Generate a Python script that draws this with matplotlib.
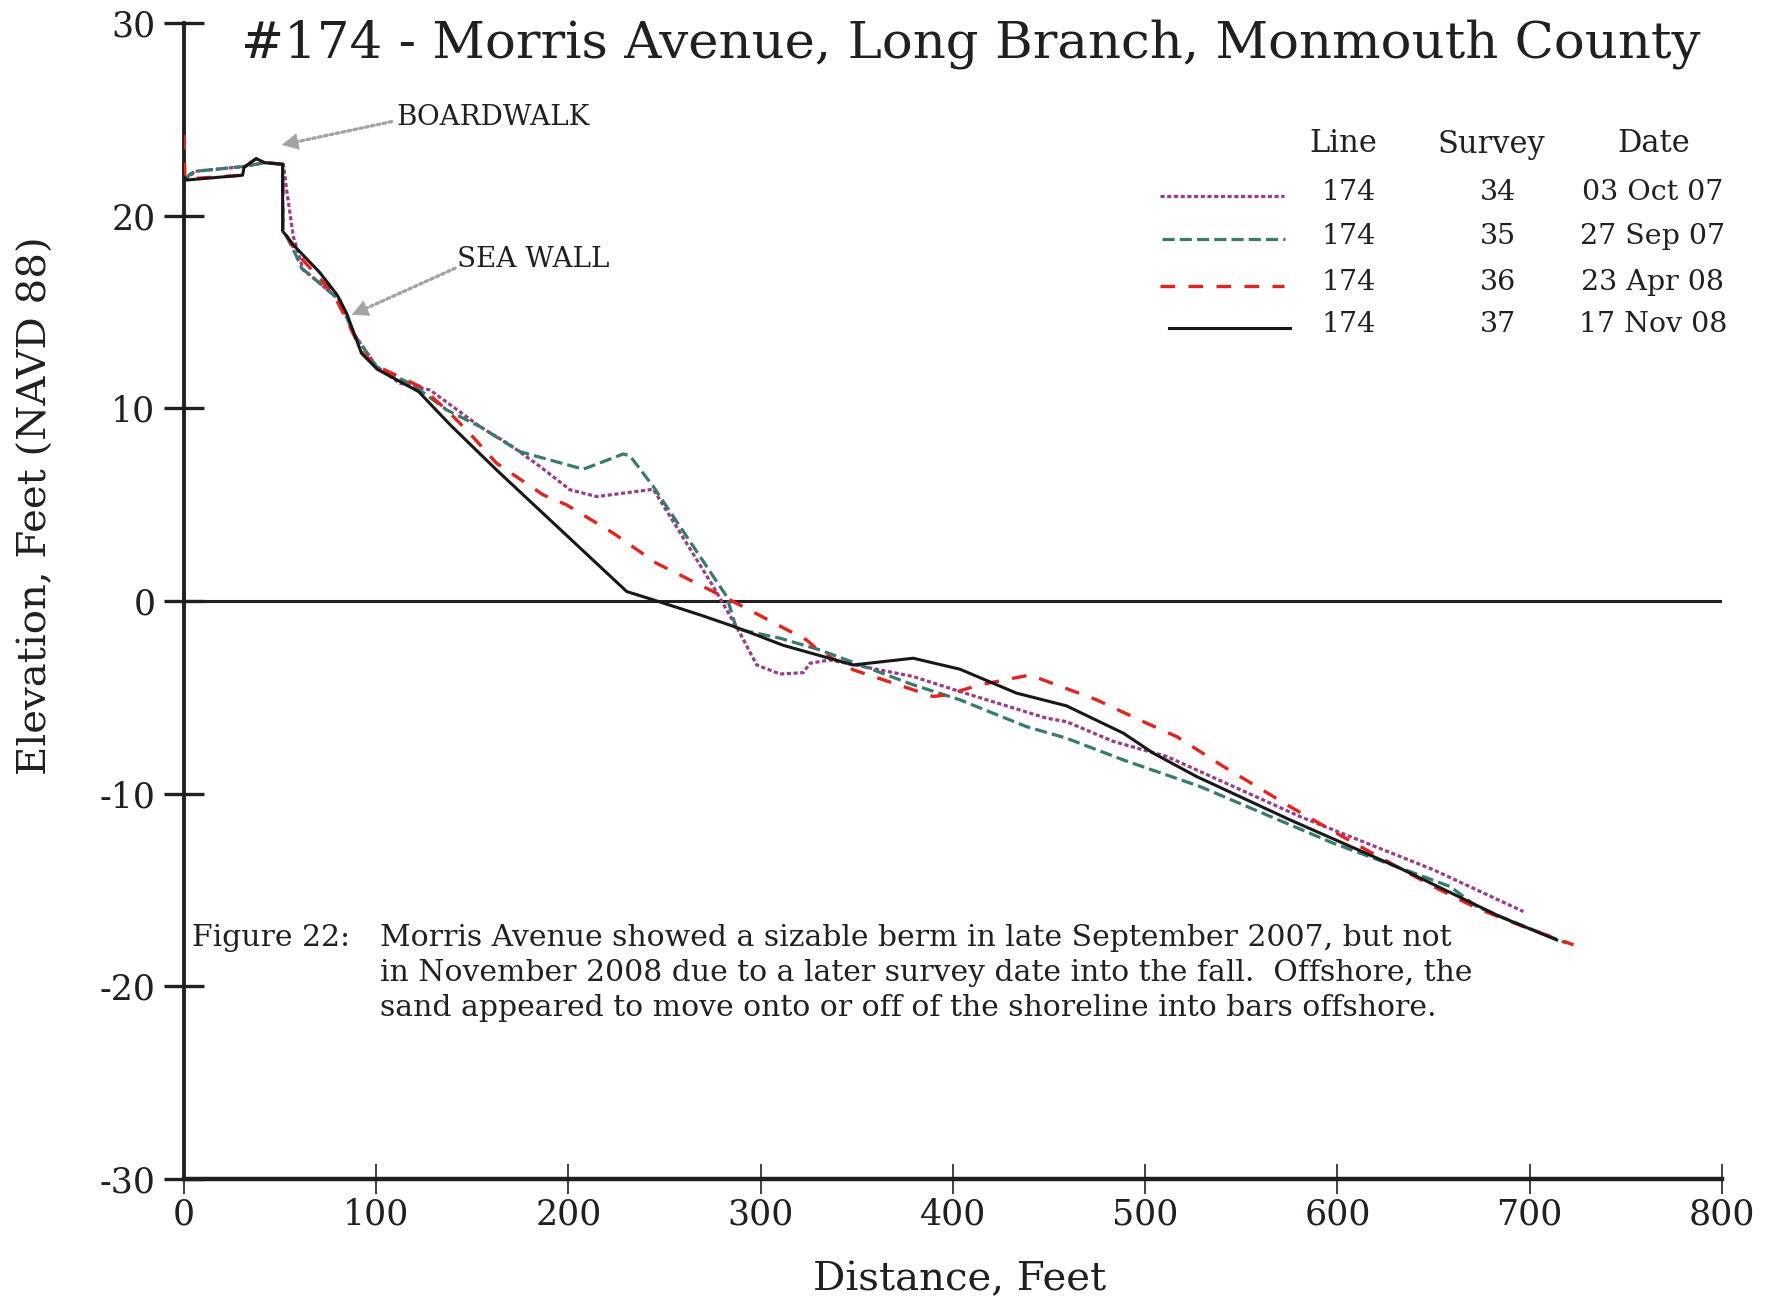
import numpy as np
import matplotlib
matplotlib.use("Agg")
import matplotlib.pyplot as plt
from matplotlib.lines import Line2D

# profile data (distance ft, elevation ft NAVD88)
dist_34 = [0.8, 5.7, 30.9, 42.1, 51.7, 53.4, 56.9, 62, 65.5, 81.1, 88.1, 100.2, 112.4, 128, 154,
           169.6, 185.2, 200.8, 214.7, 244.1, 258.2, 275.3, 289.2, 297.9, 310, 322.1, 325.6, 336,
           379.3, 403.6, 448.6, 459, 483.4, 511.2, 580.5, 649.9, 696.7]
elev_34 = [21.85, 22.3, 22.55, 22.75, 22.67, 21.33, 18.9, 17.18, 16.92, 15.6, 13.9, 12.16, 11.3, 10.95, 9.05,
           8.1, 6.98, 5.77, 5.42, 5.8, 3.52, 0.75, -1.67, -3.32, -3.79, -3.72, -3.23, -3.06,
           -3.92, -4.7, -6.08, -6.26, -7.29, -8.07, -11.19, -13.95, -16.12]

dist_35 = [0.8, 3, 5.7, 30.9, 42.1, 51.3, 51.5, 55, 58.6, 61.2, 65.5, 81.1, 88.1, 100.2, 119.3, 136.6,
           154, 174.8, 207.7, 228.5, 232, 244.1, 265, 282.3, 287.4, 310, 330.8, 379.3, 403.6, 438.2,
           459, 488.6, 528.5, 597.8, 658.6, 672.4, 693.1, 719.2]
elev_35 = [21.85, 22.15, 22.3, 22.55, 22.75, 22.67, 19.3, 18.6, 17.87, 17.27, 16.92, 15.6, 13.9, 12.16, 11.2, 9.92,
           9.05, 7.75, 6.84, 7.63, 7.53, 5.94, 2.82, 0.23, -1.45, -1.93, -2.54, -4.35, -5.13, -6.52,
           -7.12, -8.25, -9.63, -12.57, -14.82, -15.86, -16.72, -17.76]

dist_36 = [0, 0.5, 30.5, 31.2, 37.5, 42.1, 51.3, 51.5, 58.6, 77.7, 93, 101, 122.8, 136.6, 147, 162.6,
           187, 199, 223.3, 245.8, 266.6, 285.7, 323.8, 330.8, 348.1, 389.8, 396.7, 414, 440, 474.7,
           500.7, 516.4, 540.7, 575.3, 611.7, 649.9, 672.4, 696.7, 722.8]
elev_36 = [24.2, 21.9, 22.1, 22.5, 22.96, 22.75, 22.67, 19.3, 18.05, 15.97, 12.86, 12.16, 11.13, 9.92, 8.88, 7.15,
           5.5, 4.99, 3.52, 1.96, 0.92, -0.03, -2.02, -2.62, -3.57, -4.96, -4.87, -4.35, -3.84, -5.13,
           -6.34, -7.04, -8.59, -10.67, -12.74, -14.82, -15.94, -16.9, -17.85]

dist_37 = [0, 1.4, 30.5, 31.2, 37.5, 42.1, 51.3, 51.3, 56.9, 70.7, 79.7, 84.6, 92.3, 100.5, 122, 138.5,
           162.6, 230.3, 244.1, 268.4, 287.4, 311.7, 348.1, 379.3, 403.6, 433, 459, 488.6, 504.2,
           526.7, 575.3, 632.5, 684.5, 714]
elev_37 = [22.0, 21.85, 22.1, 22.5, 22.96, 22.75, 22.67, 19.2, 18.48, 17.04, 15.88, 14.93, 12.86, 12.03, 10.87, 9.14,
           6.8, 0.49, 0.06, -0.72, -1.37, -2.3, -3.32, -2.97, -3.54, -4.78, -5.44, -6.86, -7.9,
           -9.11, -11.36, -13.87, -16.38, -17.59]

line_ids = ["174", "174", "174", "174"]
survey_ids = ["34", "35", "36", "37"]
survey_dates = ["03 Oct 07", "27 Sep 07", "23 Apr 08", "17 Nov 08"]

W, H = 1774, 1301
TXT = '#231f20'
plt.rcParams['font.family'] = ['DejaVu Serif']
plt.rcParams['axes.unicode_minus'] = False

fig = plt.figure(figsize=(W / 100, H / 100), dpi=100)
ax = fig.add_axes([184 / W, 1 - 1179 / H, (1722 - 184) / W, (1179 - 23) / H])


def fx(px):
    return px / W


def fy(py):
    return 1 - py / H


styles = [
    dict(color='#9a3d87', lw=2.3, ls=(0, (1.3, 0.8))),
    dict(color='#3a7a6e', lw=2.3, ls=(0, (3.8, 1.6))),
    dict(color='#e5231e', lw=2.4, ls=(0, (4.4, 4.0))),
    dict(color='#1a1718', lw=2.2, ls='-'),
]
series = [(dist_34, elev_34), (dist_35, elev_35), (dist_36, elev_36), (dist_37, elev_37)]

ax.axhline(0, color=TXT, lw=2.2, zorder=1)
for (d, e), st in zip(series, styles):
    ax.plot(d, e, zorder=3, **st)

ax.set_xlim(0, 800)
ax.set_ylim(-30, 30)
ax.set_xticks(np.arange(0, 801, 100))
ax.set_yticks(np.arange(-30, 31, 10))
for s in ['top', 'right']:
    ax.spines[s].set_visible(False)
ax.spines['left'].set_linewidth(2.8)
ax.spines['bottom'].set_linewidth(3.2)
ax.spines['left'].set_color(TXT)
ax.spines['bottom'].set_color(TXT)
ax.tick_params(axis='y', direction='inout', length=29, width=2.4, colors=TXT, labelsize=25, pad=6)
ax.tick_params(axis='x', direction='inout', length=22, width=1.2, colors=TXT, labelsize=25, pad=2)

fig.text(fx(971), fy(44), "#174 - Morris Avenue, Long Branch, Monmouth County",
         ha='center', va='center', fontsize=37, color=TXT)
fig.text(fx(36), fy(506), "Elevation, Feet (NAVD 88)", rotation=90,
         ha='center', va='center', fontsize=29, color=TXT)
fig.text(fx(960), fy(1280), "Distance, Feet", ha='center', va='center', fontsize=29, color=TXT)

# legend table
for txt, cx in zip(["Line", "Survey", "Date"], [1343, 1491, 1654]):
    fig.text(fx(cx), fy(144), txt, ha='center', va='center', fontsize=22, color=TXT)
row_y = [193, 236, 283, 325]
sample_x = [(1160, 1284), (1162, 1285), (1160, 1284), (1169, 1290)]
for i, st in enumerate(styles):
    y = row_y[i]
    x0, x1 = sample_x[i]
    fig.add_artist(Line2D([fx(x0), fx(x1)], [fy(y + 3), fy(y + 3)], transform=fig.transFigure, **st))
    fig.text(fx(1349), fy(y), line_ids[i], ha='center', va='center', fontsize=20.5, color=TXT)
    fig.text(fx(1498), fy(y), survey_ids[i], ha='center', va='center', fontsize=20.5, color=TXT)
    fig.text(fx(1653), fy(y), survey_dates[i], ha='center', va='center', fontsize=20.5, color=TXT)

# annotations: dotted grey leader with a solid head
GREY = '#a3a3a3'


def pointer(tip, start):
    ax.annotate('', xy=tip, xytext=start,
                arrowprops=dict(arrowstyle='-', color=GREY, lw=2.4, ls=(0, (0.8, 1.0)),
                                shrinkA=0, shrinkB=4))
    dx, dy = start[0] - tip[0], start[1] - tip[1]
    ax.annotate('', xy=tip, xytext=(tip[0] + dx * 0.08, tip[1] + dy * 0.08),
                arrowprops=dict(arrowstyle='-|>', color=GREY, lw=0.5, mutation_scale=28,
                                shrinkA=0, shrinkB=0))


pointer((50.8, 23.67), (108, 24.88))
ax.text(110.3, 25.07, "BOARDWALK", ha='left', va='center', fontsize=20, color=TXT)
pointer((87.2, 14.85), (141, 17.27))
ax.text(142, 17.75, "SEA WALL", ha='left', va='center', fontsize=20, color=TXT)

# caption
fig.text(fx(192), fy(938), "Figure 22:", ha='left', va='center', fontsize=21.5, color=TXT)
caption = ["Morris Avenue showed a sizable berm in late September 2007, but not",
           "in November 2008 due to a later survey date into the fall.  Offshore, the",
           "sand appeared to move onto or off of the shoreline into bars offshore."]
for k, line in enumerate(caption):
    fig.text(fx(380), fy(938 + 35 * k), line, ha='left', va='center', fontsize=21.5, color=TXT)

fig.savefig("out.png", dpi=100)
